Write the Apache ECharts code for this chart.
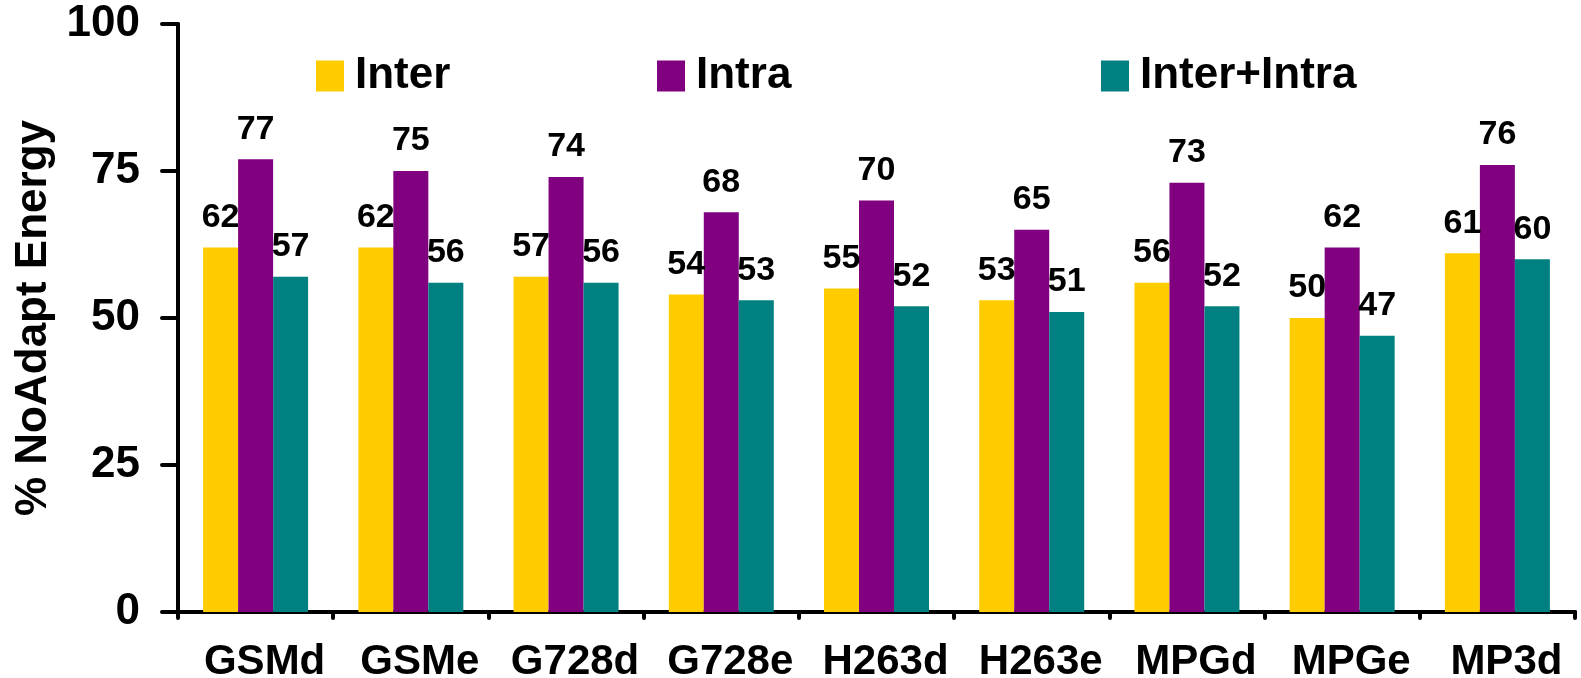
<!DOCTYPE html>
<html>
<head>
<meta charset="utf-8">
<title>% NoAdapt Energy</title>
<script src="https://cdn.jsdelivr.net/npm/echarts@6/dist/echarts.min.js"></script>
<style>
  html, body { margin: 0; padding: 0; background: #fff; }
  #chart { width: 1581px; height: 678px; }
</style>
</head>
<body>
<div id="chart"></div>
<script>
// Benchmarks on the x axis
const categories = ['GSMd', 'GSMe', 'G728d', 'G728e', 'H263d', 'H263e', 'MPGd', 'MPGe', 'MP3d'];

// Energy as a percentage of the non-adaptive baseline
const interValues = [62, 62, 57, 54, 55, 53, 56, 50, 61];
const intraValues = [77, 75, 74, 68, 70, 65, 73, 62, 76];
const interIntraValues = [57, 56, 56, 53, 52, 51, 52, 47, 60];

const seriesNames = ['Inter', 'Intra', 'Inter+Intra'];
const seriesColors = ['#FFCC00', '#800080', '#008080'];
const yTicks = [0, 25, 50, 75, 100];

const FONT = 'Arial, "Liberation Sans", sans-serif';

const chart = echarts.init(document.getElementById('chart'), null, { renderer: 'canvas' });

// One legend per series so each entry can sit at its own spot
function makeLegend(name, left) {
  return {
    data: [name],
    left: left,
    top: 54,
    padding: 0,
    itemWidth: 28,
    itemHeight: 31,
    icon: 'rect',
    textStyle: {
      fontFamily: FONT,
      fontSize: 44,
      fontWeight: 'bold',
      color: '#000',
      padding: [0, 0, 0, 6]
    }
  };
}

function makeSeries(name, values, color) {
  return {
    name: name,
    type: 'bar',
    data: values,
    barWidth: 35,
    barGap: '0%',
    itemStyle: { color: color },
    label: {
      show: true,
      position: 'top',
      distance: 13,
      fontFamily: FONT,
      fontSize: 34,
      fontWeight: 'bold',
      color: '#000'
    }
  };
}

const option = {
  backgroundColor: '#ffffff',
  animation: false,
  color: seriesColors,
  legend: [
    makeLegend(seriesNames[0], 316),
    makeLegend(seriesNames[1], 657),
    makeLegend(seriesNames[2], 1101)
  ],
  grid: {
    left: 178,
    right: 6,
    top: 24,
    bottom: 66,
    containLabel: false,
    outerBoundsMode: 'none'
  },
  xAxis: {
    type: 'category',
    data: categories,
    axisLine: { show: true, lineStyle: { color: '#000', width: 4, cap: 'round' } },
    axisTick: { show: true, length: 6, lineStyle: { color: '#000', width: 4, cap: 'round' } },
    axisLabel: {
      margin: 29,
      padding: [0, 0, 0, 18],
      fontFamily: FONT,
      fontSize: 42,
      fontWeight: 'bold',
      color: '#000',
      interval: 0
    },
    splitLine: { show: false }
  },
  yAxis: {
    type: 'value',
    min: yTicks[0],
    max: yTicks[yTicks.length - 1],
    interval: yTicks[1] - yTicks[0],
    name: '% NoAdapt Energy',
    nameLocation: 'middle',
    nameRotate: 90,
    nameGap: 122,
    nameTextStyle: {
      fontFamily: FONT,
      fontSize: 44,
      fontWeight: 'bold',
      color: '#000'
    },
    axisLine: { show: true, lineStyle: { color: '#000', width: 4, cap: 'round' } },
    axisTick: { show: true, length: 16, lineStyle: { color: '#000', width: 4, cap: 'round' } },
    axisLabel: {
      margin: 38,
      fontFamily: FONT,
      fontSize: 44,
      fontWeight: 'bold',
      color: '#000'
    },
    splitLine: { show: false }
  },
  series: [
    makeSeries(seriesNames[0], interValues, seriesColors[0]),
    makeSeries(seriesNames[1], intraValues, seriesColors[1]),
    makeSeries(seriesNames[2], interIntraValues, seriesColors[2])
  ]
};

chart.setOption(option);
</script>
</body>
</html>
